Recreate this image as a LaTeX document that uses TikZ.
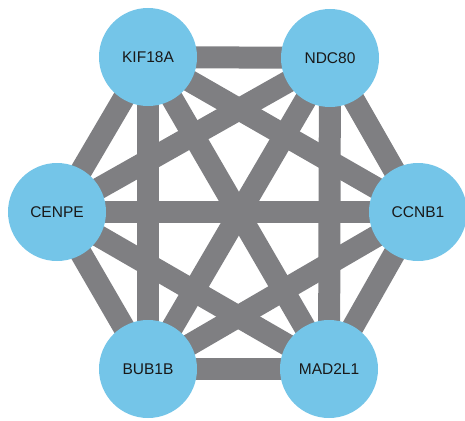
\documentclass[tikz,border=0pt]{standalone}
\usepackage{fontspec}
\setsansfont{Liberation Sans}
\usetikzlibrary{backgrounds}
\definecolor{geneblue}{HTML}{74C5E8}
\definecolor{linkgray}{HTML}{7F7F82}
\begin{document}
\begin{tikzpicture}[x=1pt, y=-1pt,
    gene/.style={circle, fill=geneblue, minimum size=98pt, inner sep=0pt,
      font=\sffamily\fontsize{15.5}{18}\selectfont, text=black!90},
    link/.style={linkgray, line width=22pt}]
      \useasboundingbox (0,0) rectangle (465,420);

      \node[gene] (kif)  at (148, 57)  {KIF18A};
      \node[gene] (ndc)  at (330, 58)  {NDC80};
      \node[gene] (cenpe) at (57, 212) {CENPE};
      \node[gene] (ccnb) at (418, 212) {CCNB1};
      \node[gene] (bub)  at (148, 369) {BUB1B};
      \node[gene] (mad)  at (329, 369) {MAD2L1};

      \begin{pgfonlayer}{background}
        \foreach \a/\b in {kif/ndc, kif/cenpe, kif/ccnb, kif/bub, kif/mad,
                           ndc/cenpe, ndc/ccnb, ndc/bub, ndc/mad,
                           cenpe/ccnb, cenpe/bub, cenpe/mad,
                           ccnb/bub, ccnb/mad, bub/mad}
          \draw[link] (\a.center) -- (\b.center);
      \end{pgfonlayer}
    \end{tikzpicture}
\end{document}
